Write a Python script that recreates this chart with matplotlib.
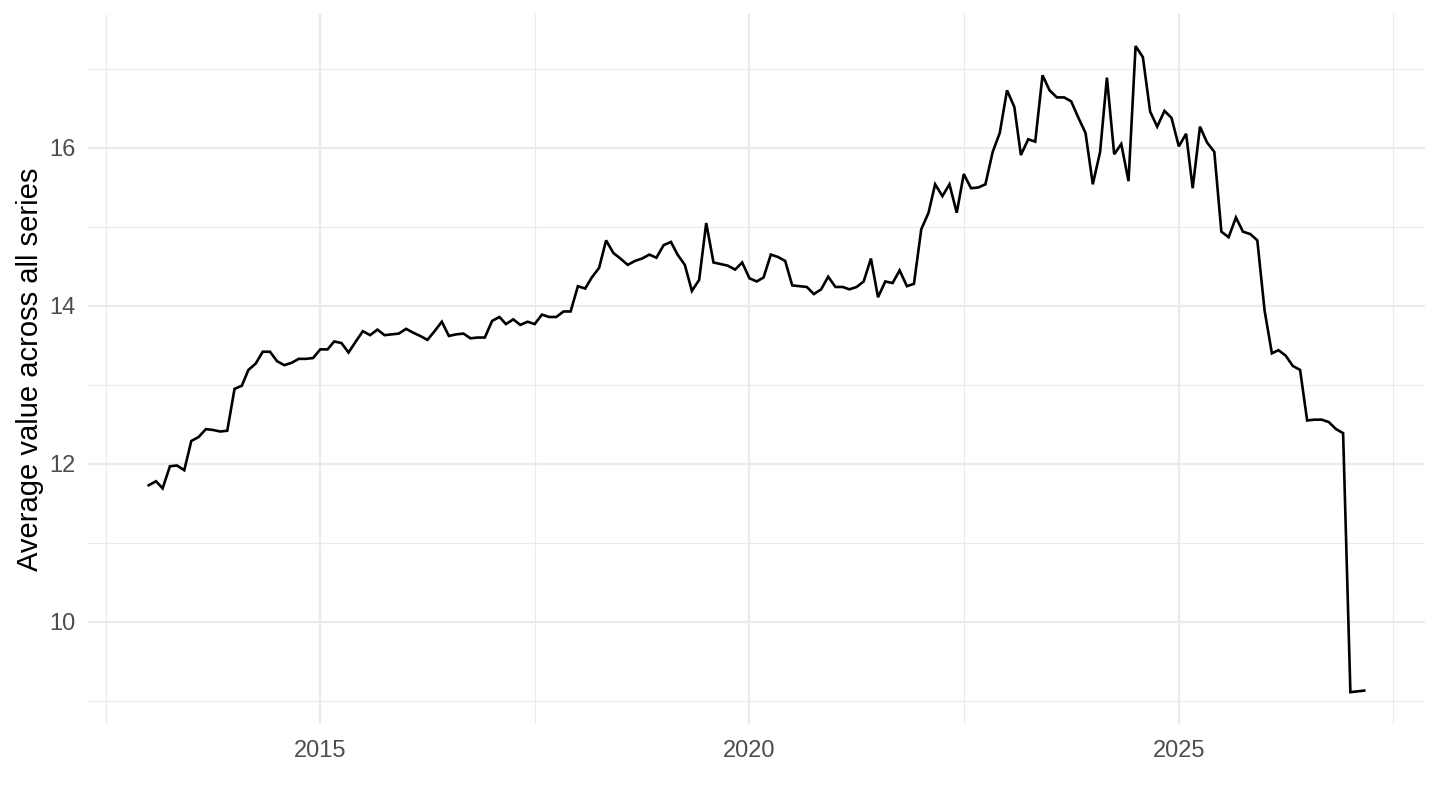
import matplotlib.pyplot as plt
import matplotlib.dates as mdates
import pandas as pd
from matplotlib.ticker import FixedLocator

# monthly averages, Jan 2013 .. Mar 2027
start_month = "2013-01-01"
values_2013 = [11.73, 11.78, 11.69, 11.97, 11.98, 11.92, 12.29, 12.34, 12.44, 12.43, 12.41, 12.42]
values_2014 = [12.95, 12.99, 13.19, 13.27, 13.42, 13.42, 13.30, 13.25, 13.28, 13.33, 13.33, 13.34]
values_2015 = [13.45, 13.45, 13.55, 13.53, 13.41, 13.55, 13.68, 13.63, 13.70, 13.63, 13.64, 13.65]
values_2016 = [13.71, 13.66, 13.62, 13.57, 13.68, 13.80, 13.62, 13.64, 13.65, 13.59, 13.60, 13.60]
values_2017 = [13.81, 13.86, 13.77, 13.83, 13.76, 13.80, 13.77, 13.89, 13.86, 13.86, 13.93, 13.93]
values_2018 = [14.25, 14.22, 14.36, 14.48, 14.83, 14.67, 14.60, 14.52, 14.57, 14.60, 14.65, 14.61]
values_2019 = [14.77, 14.81, 14.65, 14.52, 14.19, 14.33, 15.05, 14.55, 14.53, 14.51, 14.46, 14.55]
values_2020 = [14.35, 14.31, 14.36, 14.65, 14.62, 14.57, 14.26, 14.25, 14.24, 14.15, 14.21, 14.37]
values_2021 = [14.24, 14.24, 14.21, 14.24, 14.31, 14.60, 14.11, 14.31, 14.29, 14.45, 14.25, 14.28]
values_2022 = [14.97, 15.18, 15.54, 15.39, 15.54, 15.18, 15.67, 15.49, 15.50, 15.54, 15.95, 16.19]
values_2023 = [16.73, 16.52, 15.91, 16.11, 16.08, 16.92, 16.73, 16.64, 16.64, 16.59, 16.38, 16.19]
values_2024 = [15.54, 15.95, 16.89, 15.92, 16.05, 15.58, 17.29, 17.15, 16.46, 16.27, 16.47, 16.38]
values_2025 = [16.02, 16.18, 15.49, 16.27, 16.07, 15.95, 14.94, 14.87, 15.12, 14.94, 14.91, 14.83]
values_2026 = [13.94, 13.40, 13.44, 13.37, 13.24, 13.19, 12.55, 12.56, 12.56, 12.53, 12.44, 12.39]
values_2027 = [9.11, 9.12, 9.13]

y_major = [10, 12, 14, 16]
y_minor = [9, 11, 13, 15, 17]
x_major_years = ["2015-01-01", "2020-01-01", "2025-01-01"]
x_minor_dates = ["2012-07-02", "2017-07-02", "2022-07-02", "2027-07-02"]

GRID = "#EBEBEB"
TEXT = "#4D4D4D"


def main():
    values = (values_2013 + values_2014 + values_2015 + values_2016 + values_2017
              + values_2018 + values_2019 + values_2020 + values_2021 + values_2022
              + values_2023 + values_2024 + values_2025 + values_2026 + values_2027)
    dates = pd.date_range(start_month, periods=len(values), freq="MS")

    plt.rcParams["font.family"] = ["Liberation Sans", "DejaVu Sans"]
    fig = plt.figure(figsize=(14.4, 8.1), dpi=100)
    ax = fig.add_axes([0.0611, 0.1056, 0.9285, 0.8774])

    ax.plot(dates, values, color="black", lw=1.9, solid_joinstyle="miter", zorder=3)

    # ggplot-like 5% expansion
    x0, x1 = mdates.date2num(dates[0]), mdates.date2num(dates[-1])
    dx = (x1 - x0) * 0.05
    ax.set_xlim(x0 - dx, x1 + dx)
    y0, y1 = min(values), max(values)
    dy = (y1 - y0) * 0.05
    ax.set_ylim(y0 - dy, y1 + dy)

    ax.xaxis.set_major_locator(FixedLocator(mdates.date2num(pd.to_datetime(x_major_years))))
    ax.xaxis.set_minor_locator(FixedLocator(mdates.date2num(pd.to_datetime(x_minor_dates))))
    ax.xaxis.set_major_formatter(mdates.DateFormatter("%Y"))
    ax.yaxis.set_major_locator(FixedLocator(y_major))
    ax.yaxis.set_minor_locator(FixedLocator(y_minor))

    ax.grid(True, which="major", color=GRID, lw=1.6, zorder=0)
    ax.grid(True, which="minor", color=GRID, lw=0.8, zorder=0)
    ax.set_axisbelow(True)
    for s in ax.spines.values():
        s.set_visible(False)

    ax.tick_params(which="both", length=0)
    ax.tick_params(axis="x", labelsize=17, labelcolor=TEXT, pad=11)
    ax.tick_params(axis="y", labelsize=17, labelcolor=TEXT, pad=9)
    ax.set_ylabel("Average value across all series", fontsize=21, color="black", labelpad=4)

    fig.savefig("out.png", dpi=100, facecolor="white")
    plt.close(fig)


if __name__ == "__main__":
    main()
